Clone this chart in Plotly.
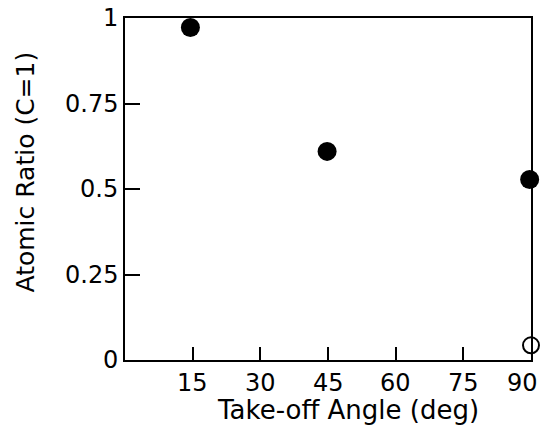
import plotly.graph_objects as go

angle_filled = [14.5, 44.8, 89.7]
ratio_filled = [0.972, 0.61, 0.528]
angle_open = [90]
ratio_open = [0.043]

x_ticks = [15, 30, 45, 60, 75, 90]
x_tick_text = ["15", "30", "45", "60", "75", "90"]
y_ticks = [0, 0.25, 0.5, 0.75, 1]
y_tick_text = ["0", "0.25", "0.5", "0.75", "1"]

W, H = 545, 429
L, R, T, B = 125, 12, 18, 69

fig = go.Figure()
fig.add_trace(go.Scatter(x=angle_filled, y=ratio_filled, mode="markers",
                         marker=dict(color="black", size=19, line=dict(width=0)),
                         cliponaxis=False, showlegend=False))
fig.add_trace(go.Scatter(x=angle_open, y=ratio_open, mode="markers",
                         marker=dict(color="white", size=16, line=dict(color="black", width=2)),
                         cliponaxis=False, showlegend=False))

font = dict(family="DejaVu Sans, sans-serif", size=24, color="black")
title_font = dict(family="DejaVu Sans, sans-serif", size=25, color="black")

annotations = []
for i, (v, t) in enumerate(zip(x_ticks, x_tick_text)):
    last = i == len(x_ticks) - 1
    annotations.append(dict(text=t, x=v, xref="x", y=0, yref="paper", yshift=-23,
                            xshift=-9 if last else 0,
                            showarrow=False, font=font, xanchor="center", yanchor="middle"))
for v, t in zip(y_ticks, y_tick_text):
    annotations.append(dict(text=t, x=0, xref="paper", y=v, yref="y", xshift=-5,
                            showarrow=False, font=font, xanchor="right", yanchor="middle"))
annotations.append(dict(text="Take-off Angle (deg)", xref="paper", yref="paper",
                        x=(349 - L) / (W - L - R), y=-(410 - (H - B)) / (H - T - B),
                        showarrow=False, font=dict(family="DejaVu Sans, sans-serif", size=26, color="black"),
                        xanchor="center", yanchor="middle"))
annotations.append(dict(text="Atomic Ratio (C=1)", xref="paper", yref="paper",
                        x=-(L - 25) / (W - L - R), y=(H - B - 172) / (H - T - B),
                        showarrow=False, font=title_font, textangle=-90,
                        xanchor="center", yanchor="middle"))

fig.update_layout(
    width=W, height=H,
    margin=dict(l=L, r=R, t=T, b=B),
    paper_bgcolor="white", plot_bgcolor="white",
    font=font,
    xaxis=dict(range=[0, 90], tickvals=x_ticks, showticklabels=False, ticks="inside",
               ticklen=13, tickwidth=2, tickcolor="black", showline=True, linecolor="black",
               linewidth=2, mirror=True, showgrid=False, zeroline=False),
    yaxis=dict(range=[0, 1], tickvals=y_ticks, showticklabels=False, ticks="inside",
               ticklen=15, tickwidth=2, tickcolor="black", showline=True, linecolor="black",
               linewidth=2, mirror=True, showgrid=False, zeroline=False),
    annotations=annotations,
)

fig.write_html("out.html")
